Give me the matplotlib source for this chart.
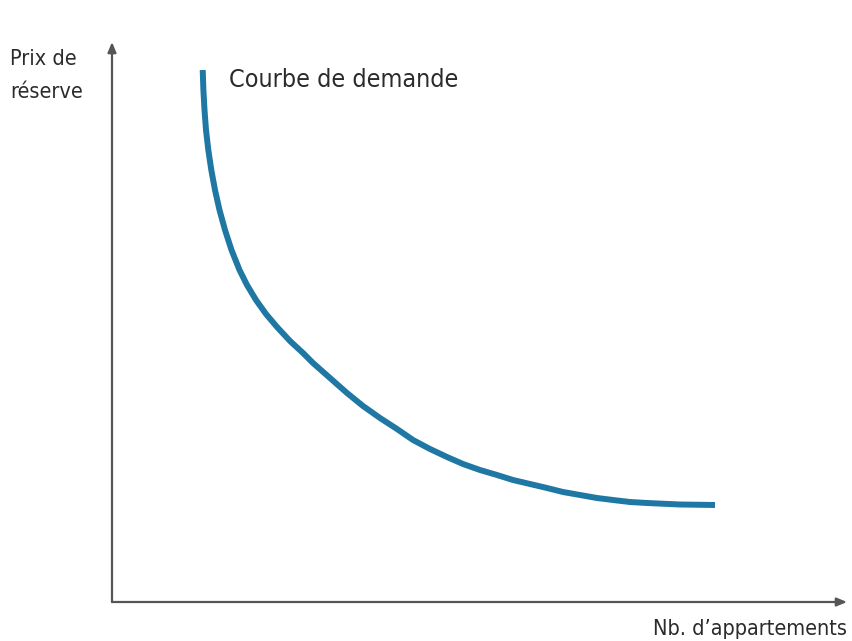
import matplotlib.pyplot as plt

# courbe de demande (unités arbitraires)
quantite = [90.7, 91.4, 92.5, 94, 96.3, 99.3, 103, 107.5, 113, 119.5, 127.5,
            135, 144, 154, 165, 178, 191, 201, 218, 235, 251, 268, 285, 301,
            318, 335, 351, 368, 385, 401, 418, 435, 451, 468, 485, 501, 518,
            535, 568, 603]
prix = [532, 512, 492, 472, 452, 432, 412, 392, 372, 352, 332,
        317, 302, 288, 275, 261, 249, 239, 224, 209, 196, 184, 173, 162,
        153, 145, 138, 132, 127, 122, 118, 114, 110, 107, 104, 102, 100,
        99, 97.5, 97]

X_MAX = 735
Y_MAX = 560

fig = plt.figure(figsize=(8.53, 6.41), dpi=100)
ax = fig.add_axes([112 / 853, 39 / 641, 741 / 853, 602 / 641])
ax.set_xlim(0, 741)
ax.set_ylim(0, 602)
ax.axis('off')

axe_style = dict(arrowstyle='-|>,head_length=0.6,head_width=0.25',
                 color='#555555', lw=1.6, shrinkA=0, shrinkB=0)
ax.annotate('', xy=(X_MAX, 0), xytext=(0, 0), arrowprops=axe_style)
ax.annotate('', xy=(0, Y_MAX), xytext=(0, 0), arrowprops=axe_style)

ax.plot(quantite, prix, color='#1f77a4', lw=4.3, solid_capstyle='butt',
        solid_joinstyle='round')

txt = dict(color='#2b2b2b', family='DejaVu Sans', fontstretch='condensed',
           va='baseline')
fig.text(10 / 853, 1 - 65 / 641, 'Prix de', ha='left', fontsize=15.5, **txt)
fig.text(10 / 853, 1 - 98 / 641, 'réserve', ha='left', fontsize=15.5, **txt)
fig.text(229 / 853, 1 - 87 / 641, 'Courbe de demande', ha='left',
         fontsize=18, **txt)
fig.text(847 / 853, 1 - 635 / 641, 'Nb. d\u2019appartements', ha='right',
         fontsize=15.5, **txt)

fig.savefig('out.png', dpi=100)
